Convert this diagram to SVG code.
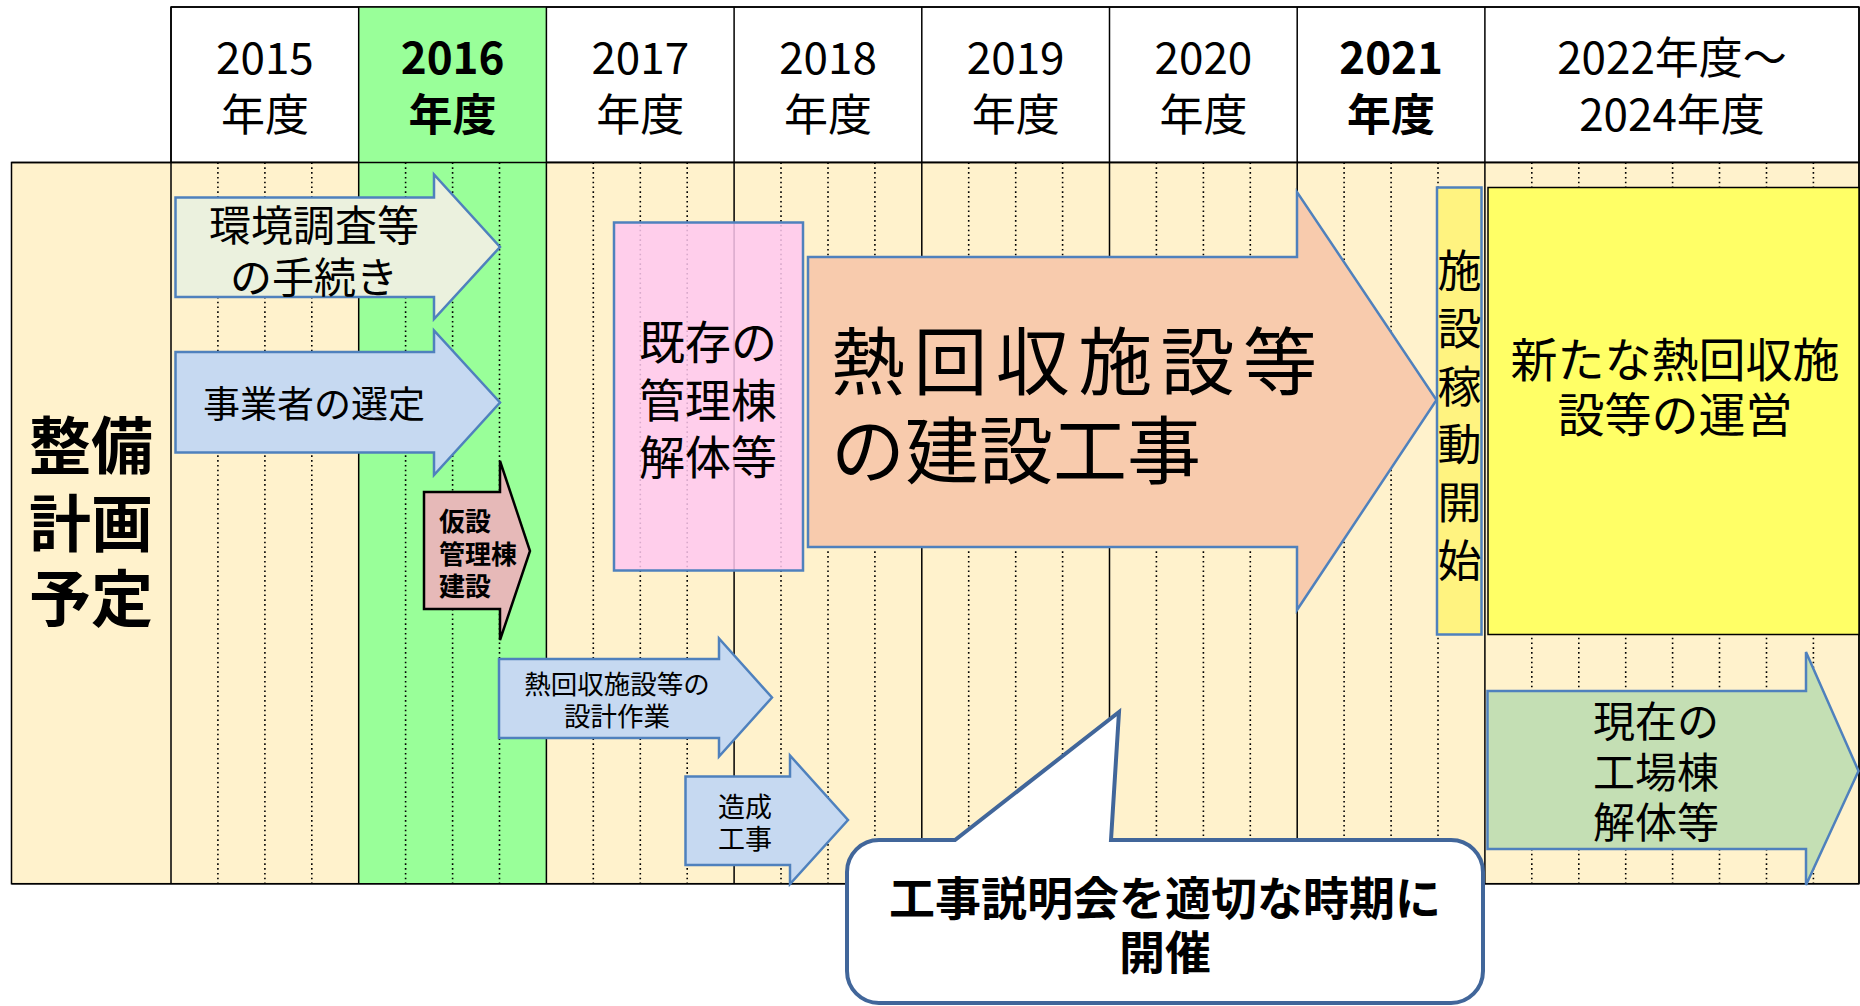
<svg xmlns="http://www.w3.org/2000/svg" width="1860" height="1006" viewBox="0 0 1860 1006">
<style>
text{font-family:"Noto Sans CJK JP","Noto Sans",sans-serif;fill:#000;text-anchor:middle}
.b{font-weight:bold}
.l{text-anchor:start}
.cell{fill:#fff;stroke:#000;stroke-width:1.5}
.col{stroke:#000;stroke-width:1.5;fill:none}
.dot{stroke:#000;stroke-width:1.6;stroke-dasharray:1.6 3.2;fill:none}
.arr{stroke:#4F81BD;stroke-width:2.5;stroke-linejoin:miter}
.hdr{font-size:44px}
</style>
<rect width="1860" height="1006" fill="#fff"/>
<g id="grid">
  <rect x="171" y="7" width="1688" height="155.5" class="cell"/>
  <rect x="11.5" y="162.5" width="1847.5" height="721.2" fill="#FFF2CC" stroke="#000" stroke-width="1.5"/>
  <rect x="358.7" y="7" width="187.7" height="876.7" fill="#99FF99"/>
  <path class="dot" d="M217.9 162.5V883.7M264.9 162.5V883.7M311.8 162.5V883.7M405.6 162.5V883.7M452.6 162.5V883.7M499.5 162.5V883.7M593.3 162.5V883.7M640.3 162.5V883.7M687.2 162.5V883.7M781 162.5V883.7M828 162.5V883.7M874.9 162.5V883.7M968.7 162.5V883.7M1015.7 162.5V883.7M1062.6 162.5V883.7M1156.4 162.5V883.7M1203.4 162.5V883.7M1250.3 162.5V883.7M1344.1 162.5V883.7M1391.1 162.5V883.7M1438 162.5V883.7M1531.8 162.5V883.7M1578.8 162.5V883.7M1625.7 162.5V883.7M1672.6 162.5V883.7M1719.5 162.5V883.7M1766.5 162.5V883.7M1813.4 162.5V883.7"/>
  <path class="col" d="M171 7V883.7M358.7 7V883.7M546.4 7V883.7M734.1 7V883.7M921.8 7V883.7M1109.5 7V883.7M1297.2 7V883.7M1484.9 7V883.7M171 7H1859M11.5 162.5H1859M11.5 883.7H1859M1859 7V883.7"/>
</g>
<g id="header">
  <text class="hdr" x="264.9" y="74">2015</text><text class="hdr" x="264.9" y="131">年度</text>
  <text class="hdr b" x="452.6" y="74">2016</text><text class="hdr b" x="452.6" y="131">年度</text>
  <text class="hdr" x="640.3" y="74">2017</text><text class="hdr" x="640.3" y="131">年度</text>
  <text class="hdr" x="828" y="74">2018</text><text class="hdr" x="828" y="131">年度</text>
  <text class="hdr" x="1015.7" y="74">2019</text><text class="hdr" x="1015.7" y="131">年度</text>
  <text class="hdr" x="1203.4" y="74">2020</text><text class="hdr" x="1203.4" y="131">年度</text>
  <text class="hdr b" x="1391.1" y="74">2021</text><text class="hdr b" x="1391.1" y="131">年度</text>
  <text class="hdr" x="1672" y="74">2022年度～</text><text class="hdr" x="1672" y="131">2024年度</text>
</g>
<g id="label-plan">
  <text class="b" x="91" y="469" font-size="62">整備</text>
  <text class="b" x="91" y="547" font-size="62">計画</text>
  <text class="b" x="91" y="622" font-size="62">予定</text>
</g>
<g id="node-env">
  <path class="arr" fill="#EBF1DE" d="M175.5 197.5H434V174.5L500 247L434 319V297H175.5Z"/>
  <text x="314" y="241" font-size="42">環境調査等</text>
  <text x="314" y="293" font-size="42">の手続き</text>
</g>
<g id="node-select">
  <path class="arr" fill="#C6D9F1" d="M175.5 352H434V330.5L500 402.5L434 475V452.5H175.5Z"/>
  <text x="314" y="418" font-size="37">事業者の選定</text>
</g>
<g id="node-temp">
  <path fill="#E6B9B8" stroke="#000" stroke-width="2.5" d="M424 492H500V461L530 551L500 640V609H424Z"/>
  <text class="l b" x="439" y="531" font-size="26">仮設</text>
  <text class="l b" x="439" y="564" font-size="26">管理棟</text>
  <text class="l b" x="439" y="596" font-size="26">建設</text>
</g>
<g id="node-demolish-old">
  <rect x="614" y="222.5" width="189" height="348" fill="#FFC8F0" fill-opacity="0.85" stroke="#4F81BD" stroke-width="2.5"/>
  <text x="708" y="359" font-size="46">既存の</text>
  <text x="708" y="417" font-size="46">管理棟</text>
  <text x="708" y="474" font-size="46">解体等</text>
</g>
<g id="node-design">
  <path class="arr" fill="#C6D9F1" d="M499 659H719V638.5L772 697.5L719 756.5V738H499Z"/>
  <text x="617" y="694" font-size="26.5">熱回収施設等の</text>
  <text x="617" y="726" font-size="26.5">設計作業</text>
</g>
<g id="node-grading">
  <path class="arr" fill="#C6D9F1" d="M685.5 776.5H790V755.5L848 820L790 884V865H685.5Z"/>
  <text x="745" y="816.5" font-size="27">造成</text>
  <text x="745" y="848.5" font-size="27">工事</text>
</g>
<g id="node-construction">
  <path class="arr" fill="#F8CBAD" d="M808 257H1297V192L1436.5 400L1297 610V547H808Z"/>
  <text class="l" x="831" y="389" font-size="74" textLength="486" lengthAdjust="spacing">熱回収施設等</text>
  <text class="l" x="831" y="478" font-size="74">の建設工事</text>
</g>
<g id="node-start">
  <rect x="1437" y="187.5" width="44.5" height="447" fill="#FFF380" stroke="#4F81BD" stroke-width="2.5"/>
  <text x="1459.6" y="287.4" font-size="44">施</text>
  <text x="1459.6" y="345.4" font-size="44">設</text>
  <text x="1459.6" y="403.4" font-size="44">稼</text>
  <text x="1459.6" y="461.4" font-size="44">動</text>
  <text x="1459.6" y="519.4" font-size="44">開</text>
  <text x="1459.6" y="577.4" font-size="44">始</text>
</g>
<g id="node-operation">
  <rect x="1488" y="187.5" width="371" height="447" fill="#FFFF66" stroke="#000" stroke-width="1.5"/>
  <text x="1675" y="377" font-size="47">新たな熱回収施</text>
  <text x="1675" y="432" font-size="47">設等の運営</text>
</g>
<g id="node-demolish-current">
  <path class="arr" fill="#C4DFB4" d="M1487.5 691H1806V652L1858.5 771L1806 885V849H1487.5Z"/>
  <text x="1656" y="737" font-size="42">現在の</text>
  <text x="1656" y="788" font-size="42">工場棟</text>
  <text x="1656" y="838" font-size="42">解体等</text>
</g>
<g id="node-callout">
  <path fill="#fff" stroke="#41669A" stroke-width="4" stroke-linejoin="miter" d="M879 840H955L1119 712L1111 840H1451A32 32 0 0 1 1483 872V971A32 32 0 0 1 1451 1003H879A32 32 0 0 1 847 971V872A32 32 0 0 1 879 840Z"/>
  <text class="b" x="1165" y="915" font-size="46">工事説明会を適切な時期に</text>
  <text class="b" x="1165" y="969" font-size="46">開催</text>
</g>
</svg>
